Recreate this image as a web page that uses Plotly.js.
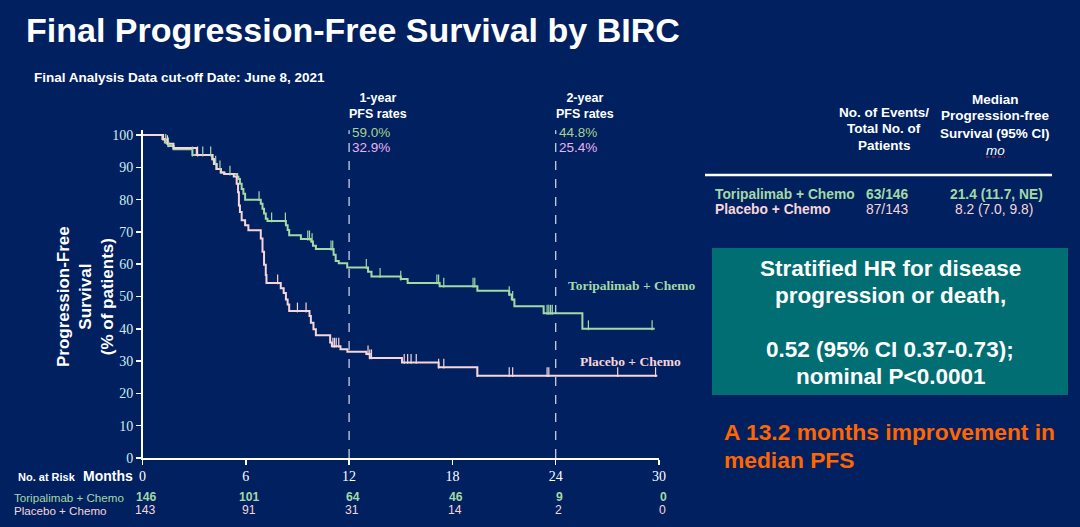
<!DOCTYPE html>
<html><head><meta charset="utf-8">
<script src="https://cdn.plot.ly/plotly-3.0.1.min.js"></script>
<style>html,body{margin:0;padding:0;background:#002060;}#chart{width:1080px;height:527px;}</style>
</head><body><div id="chart"></div>
<script>
// ---- data ----
const toriTimes = [0, 1.15, 1.3, 1.5, 1.8, 2.9, 4.06, 4.15, 4.3, 4.55, 4.75, 5.5, 5.57, 5.66, 5.76, 5.86, 5.96, 6.87, 6.97, 7.06, 7.16, 7.26, 8.33, 8.43, 8.52, 9.2, 9.8, 9.9, 10.07, 11.1, 11.22, 11.4, 11.89, 13.1, 13.3, 15.0, 15.4, 17.26, 19.45, 21.3, 21.45, 21.6, 23.3, 25.55, 29.75];
const toriSurv  = [100, 98.8, 97.7, 96.6, 95.6, 93.8, 92.5, 91.0, 89.5, 88.4, 87.9, 87.1, 86.4, 84.9, 83.3, 81.8, 80.0, 78.7, 77.2, 75.7, 74.1, 73.4, 72.1, 70.6, 69.0, 67.8, 67.0, 65.7, 64.7, 62.9, 61.0, 60.3, 59.0, 57.7, 56.2, 55.4, 54.2, 53.2, 51.8, 50.6, 49.1, 47.0, 44.8, 40.0, 40.0];
const toriCensor = [1.35, 1.5, 2.9, 3.5, 3.96, 4.25, 4.5, 5.08, 6.77, 7.5, 8.3, 9.6, 9.7, 9.85, 10.95, 11.05, 13.0, 13.8, 15.0, 17.1, 17.2, 17.5, 19.2, 19.3, 21.3, 21.5, 23.5, 23.6, 23.7, 23.8, 25.9, 29.6];

const placTimes = [0, 1.2, 1.45, 1.8, 3.15, 4.06, 4.15, 4.3, 4.55, 4.75, 5.3, 5.47, 5.55, 5.6, 5.66, 5.76, 5.96, 6.15, 6.87, 6.97, 7.06, 7.16, 7.2, 8.03, 8.2, 8.33, 8.43, 8.52, 9.7, 9.78, 9.93, 10.07, 10.9, 11.0, 11.5, 11.9, 13.0, 13.2, 15.07, 17.2, 19.45, 29.9];
const placSurv  = [100, 98.6, 97.3, 96.0, 93.8, 92.5, 91.0, 89.5, 88.4, 87.9, 87.2, 84.9, 82.3, 78.2, 76.2, 73.6, 72.1, 70.5, 68.0, 63.9, 59.8, 56.7, 54.2, 52.6, 51.1, 49.1, 47.5, 45.5, 44.0, 41.9, 39.9, 38.0, 35.8, 34.6, 33.7, 32.9, 32.2, 31.0, 29.6, 28.1, 25.5, 25.5];
const placCensor = [1.45, 3.2, 7.85, 9.0, 9.5, 11.06, 11.15, 11.25, 11.4, 13.1, 13.2, 13.3, 15.2, 15.4, 15.6, 15.9, 17.2, 17.5, 19.45, 21.3, 21.5, 23.5, 23.6, 27.6, 29.8];

const xTicks = [0, 6, 12, 18, 24, 30];
const yTicks = [0, 10, 20, 30, 40, 50, 60, 70, 80, 90, 100];
const riskMonths = [0, 6, 12, 18, 24, 30];
const riskTori = [146, 101, 64, 46, 9, 0];
const riskPlac = [143, 91, 31, 14, 2, 0];
const landmarkMonths = [12, 24];
const landmarkTori = ['59.0%', '44.8%'];
const landmarkPlac = ['32.9%', '25.4%'];
const landmarkLabels = ['1-year', '2-year'];

// ---- styling ----
const BG = '#002060';
const GREEN = '#a3d9a5';
const PINK = '#f7d6da';
const SANS = 'Liberation Sans, Arial, sans-serif';
const SERIF = 'Liberation Serif, Times New Roman, serif';
const W = 1080, H = 527;
const px = x => x / W;
const py = y => 1 - y / H;

function survAt(times, surv, t) {
  let s = surv[0];
  for (let i = 0; i < times.length; i++) { if (times[i] <= t) s = surv[i]; }
  return s;
}
const TICKOFF = 1.1;

const traces = [
  {x: toriTimes, y: toriSurv, mode: 'lines', line: {shape: 'hv', color: GREEN, width: 2}, hoverinfo: 'skip'},
  {x: placTimes, y: placSurv, mode: 'lines', line: {shape: 'hv', color: PINK, width: 2}, hoverinfo: 'skip'},
  {x: toriCensor, y: toriCensor.map(t => survAt(toriTimes, toriSurv, t) + TICKOFF), mode: 'markers',
   marker: {symbol: 'line-ns', size: 7, line: {color: GREEN, width: 1.2}}, hoverinfo: 'skip'},
  {x: placCensor, y: placCensor.map(t => survAt(placTimes, placSurv, t) + TICKOFF), mode: 'markers',
   marker: {symbol: 'line-ns', size: 7, line: {color: PINK, width: 1.2}}, hoverinfo: 'skip'}
];

function ann(text, x, y, size, color, opts) {
  return Object.assign({text: text, x: px(x), y: py(y), xref: 'paper', yref: 'paper', showarrow: false,
    xanchor: 'center', yanchor: 'middle', font: {family: SANS, size: size, color: color}}, opts || {});
}

const annotations = [
  ann('<b>Final Progression-Free Survival by BIRC</b>', 24, 30, 34, '#ffffff', {xanchor: 'left'}),
  ann('<b>Final Analysis Data cut-off Date: June 8, 2021</b>', 32, 78, 13.5, '#ffffff', {xanchor: 'left'}),
  ann('<b>Progression-Free<br>Survival<br>(% of patients)</b>', 85, 297, 17, '#ffffff', {textangle: -90}),
  ann('<b>Toripalimab + Chemo</b>', 631, 285, 13, GREEN, {font: {family: SERIF, size: 13.5, color: GREEN}}),
  ann('<b>Placebo + Chemo</b>', 630, 361, 13, PINK, {font: {family: SERIF, size: 13.5, color: PINK}}),
  // risk table
  ann('<b>No. at Risk</b>', 16, 477, 11, '#ffffff', {xanchor: 'left'}),
  ann('<b>Months</b>', 108, 476, 14, '#ffffff'),
  ann('Toripalimab + Chemo', 12, 497, 11.6, GREEN, {xanchor: 'left'}),
  ann('Placebo + Chemo', 12, 510, 11.6, PINK, {xanchor: 'left'}),
  // right table
  ann('<b>No. of Events/</b>', 884, 113, 13.5, '#ffffff'),
  ann('<b>Total No. of</b>', 884, 129, 13.5, '#ffffff'),
  ann('<b>Patients</b>', 884, 145, 13.5, '#ffffff'),
  ann('<b>Median</b>', 995, 100, 13.5, '#ffffff'),
  ann('<b>Progression-free</b>', 995, 116, 13.5, '#ffffff'),
  ann('<b>Survival (95% CI)</b>', 995, 133, 13.5, '#ffffff'),
  ann('<i>mo</i>', 995, 150, 13.5, '#ffffff'),
  ann('<b>Toripalimab + Chemo</b>', 713, 194, 13.8, GREEN, {xanchor: 'left'}),
  ann('<b>63/146</b>', 887, 194, 13.8, GREEN),
  ann('<b>21.4 (11.7, NE)</b>', 996, 194, 13.8, GREEN),
  ann('<b>Placebo + Chemo</b>', 713, 210, 13.8, PINK, {xanchor: 'left'}),
  ann('87/143', 887, 210, 13.8, PINK),
  ann('8.2 (7.0, 9.8)', 994, 210, 13.8, PINK),
  // HR box
  ann('<b>Stratified HR for disease</b>', 890, 268, 22.5, '#ffffff'),
  ann('<b>progression or death,</b>', 890, 295, 22.5, '#ffffff'),
  ann('<b>0.52 (95% CI 0.37-0.73);</b>', 890, 349, 22.5, '#ffffff'),
  ann('<b>nominal P&lt;0.0001</b>', 890, 376, 22.5, '#ffffff'),
  ann('<b>A 13.2 months improvement in</b>', 722, 432, 22.8, '#ff6600', {xanchor: 'left'}),
  ann('<b>median PFS</b>', 722, 460, 22.8, '#ff6600', {xanchor: 'left'})
];

landmarkMonths.forEach((m, i) => {
  annotations.push({text: '<b>' + landmarkLabels[i] + '<br>PFS rates</b>', x: m, xref: 'x', xshift: 29, y: py(106), yref: 'paper',
    showarrow: false, xanchor: 'center', yanchor: 'middle', font: {family: SANS, size: 12.5, color: '#ffffff'}});
  annotations.push({text: landmarkTori[i], x: m, xref: 'x', xshift: 1, y: py(132), yref: 'paper', showarrow: false,
    xanchor: 'left', yanchor: 'middle', font: {family: SANS, size: 13.5, color: '#a9d18e'}});
  annotations.push({text: landmarkPlac[i], x: m, xref: 'x', xshift: 1, y: py(148), yref: 'paper', showarrow: false,
    xanchor: 'left', yanchor: 'middle', font: {family: SANS, size: 13.5, color: '#eab4f0'}});
});

riskMonths.forEach((m, i) => {
  annotations.push({text: '<b>' + riskTori[i] + '</b>', x: m, xref: 'x', xshift: 4, y: py(497), yref: 'paper', showarrow: false,
    xanchor: 'center', yanchor: 'middle', font: {family: SANS, size: 12.2, color: GREEN}});
  annotations.push({text: String(riskPlac[i]), x: m, xref: 'x', xshift: 3, y: py(510), yref: 'paper', showarrow: false,
    xanchor: 'center', yanchor: 'middle', font: {family: SANS, size: 12.2, color: PINK}});
});

const shapes = [
  {type: 'line', xref: 'paper', yref: 'paper', x0: px(705), x1: px(1052), y0: py(175), y1: py(175), line: {color: '#ffffff', width: 2.5}},
  {type: 'line', xref: 'paper', yref: 'paper', x0: px(986), x1: px(1005), y0: py(157), y1: py(157), line: {color: '#d03030', width: 1, dash: 'dot'}},
  {type: 'rect', xref: 'paper', yref: 'paper', x0: px(712), x1: px(1068), y0: py(395), y1: py(248), fillcolor: '#006e73', line: {width: 0}, layer: 'below'}
];
landmarkMonths.forEach(m => {
  shapes.push({type: 'line', xref: 'x', yref: 'y', x0: m, x1: m, y0: 0, y1: 102, line: {color: '#c8d0dc', width: 1.3, dash: 'dash'}});
});

const layout = {
  width: W, height: H,
  margin: {l: 0, r: 0, t: 0, b: 0},
  paper_bgcolor: BG, plot_bgcolor: BG,
  showlegend: false,
  xaxis: {domain: [px(142.5), px(659)], range: [0, 30], tickvals: xTicks, showline: true, linecolor: '#ffffff', linewidth: 1.5,
    ticks: 'outside', ticklen: 5, tickcolor: '#ffffff', tickwidth: 1.5, showgrid: false, zeroline: false,
    tickfont: {family: SERIF, size: 14, color: '#ffffff'}, fixedrange: true},
  yaxis: {domain: [py(458), py(130.2)], range: [0, 101.5], tickvals: yTicks, showline: true, linecolor: '#ffffff', linewidth: 1.5,
    ticks: 'outside', ticklen: 5, tickcolor: '#ffffff', tickwidth: 1.5, showgrid: false, zeroline: false,
    tickfont: {family: SERIF, size: 14, color: '#d0ecec'}, fixedrange: true},
  annotations: annotations,
  shapes: shapes
};

Plotly.newPlot('chart', traces, layout, {staticPlot: true, displayModeBar: false});
</script>
</body></html>
